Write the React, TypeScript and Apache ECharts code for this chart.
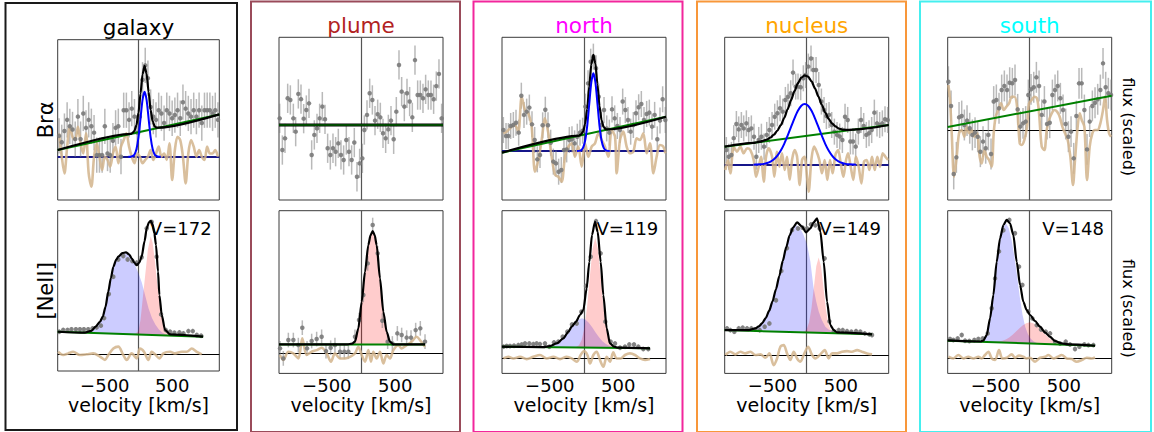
import React, { useEffect, useRef } from 'react';
import * as echarts from 'echarts';

const FONT = 'DejaVu Sans';

// ---------------- text ----------------
const TITLES = ['galaxy', 'plume', 'north', 'nucleus', 'south'];
const TITLE_COLORS = ['#000000', '#b22222', '#ff00ff', '#ffa500', '#00ffff'];
const FRAME_COLORS = ['#1a1a1a', '#9a4b5a', '#f2269c', '#f8973a', '#45efef'];
const V_LABELS = ['V=172', '', 'V=119', 'V=149', 'V=148'];
const ROW_LABELS = ['Br\u03b1', '[NeII]'];
const RIGHT_LABEL = 'flux (scaled)';
const X_LABEL = 'velocity [km/s]';
const X_TICKS = [-500, 500];

// ---------------- galaxy ----------------
const GAL_BRA_V = [-1180,-1140,-1100,-1060,-1020,-980,-940,-900,-860,-820,-780,-740,-700,-660,-620,-580,-540,-500,-460,-420,-380,-340,-300,-260,-220,-180,-140,-100,-60,-20,20,60,100,140,180,220,260,300,340,380,420,460,500,540,580,620,660,700,740,780,820,860,900,940,980,1020,1060,1100,1140,1180];
const GAL_BRA_F = [40,36,43,50,46,44,38,52,38,54,45,50,46,42,28,28,28,46,29,28,37,45,46,27,56,56,50,57,52,42,52,75,84,76,58,52,50,56,54,48,56,54,51,53,56,51,61,57,54,52,56,52,56,48,56,56,56,54,56,50];
const GAL_BRA_RES = [41.6,27,16.6,33,45.7,39.5,37.4,45.7,35.3,29,41.6,16.6,8.3,27,35.3,27,18.7,27,25,20.8,29,33.3,22.9,33.3,37.4,41.6,33.3,27,22.9,29,27,22.9,25,27,31.2,25,29,33.3,27,29,25,35.3,12.5,31.2,39.5,37.4,27,10.4,29,37.4,33.3,27,31.2,27,25,33.3,29,29,31.2,27];
const GAL_BRA_ERR = 11;
const GAL_BRA_RES0 = 27;
const GAL_BRA_GREEN = [[-1200,31.2],[1200,53.4]];
const GAL_BRA_FIT = [[-1200,31.2],[-120,41.2],[-90,41.8],[-60,43.2],[-30,46.8],[0,54.5],[30,66.4],[60,78.4],[90,83.7],[120,78.9],[150,67.5],[180,56.2],[210,49.0],[240,45.9],[270,45.1],[300,45.1],[1200,53.4]];
const GAL_BRA_GAUSS = [[-150,27],[-120,27.0],[-90,27.3],[-60,28.4],[-30,31.8],[0,39.2],[30,50.8],[60,62.5],[90,67.6],[120,62.5],[150,50.8],[180,39.2],[210,31.8],[240,28.4],[270,27.3],[300,27.0],[330,27]];

const GAL_NE_V = [-1178,-1118,-1054,-995,-930,-870,-811,-747,-682,-622,-558,-510,-440,-374,-300,-226,-161,-92,-27,47,122,196,270,335,404,469,533,608,667,741,806,866,930];
const GAL_NE_F = [24.5,25.6,25.6,26,26,26,26,26,26.6,27.2,28.3,33,48,58.8,69.6,71.7,69.6,68.6,67.6,71,89,93,71.3,35.3,25.6,24.5,23.9,24.1,23.5,24.9,24.9,22.5,22];
const GAL_NE_RV = [-1193,-1119,-1044,-970,-871,-771,-672,-573,-498,-449,-374,-300,-226,-176,-102,-27,22,82,146,196,246,310,369,469,543,642,717,791,866,940];
const GAL_NE_RF = [12,10,11,12,10,10.4,11,9,6.9,10,14,15.2,10,6.9,11,7.9,14,12,6.9,12,10.4,7.9,11,12,11,12,12,14,12,10.4];
const GAL_NE_ERR = 1.5;
const GAL_NE_RES0 = 10.4;
const GAL_NE_GREEN = [[-1200,24.5],[960,21.4]];
const GAL_NE_FIT = [[-1200,24.5],[-800,23.9],[-700,25],[-640,27.5],[-573,30.6],[-530,34],[-490,40],[-449,49.5],[-410,58],[-374,65],[-330,69.5],[-300,71.3],[-240,73.5],[-186,74],[-140,72.8],[-102,70.3],[-60,67.5],[-27,66],[10,67.5],[47,71.3],[90,81],[122,89],[155,92.8],[181,93.6],[210,91.5],[235,86],[260,78.6],[290,62],[310,47.4],[345,35],[394,25.6],[470,22.8],[960,21.4]];
const GAL_NE_BLUE = [[-800,23.9],[-700,25],[-640,27.5],[-573,30.6],[-530,34],[-490,40],[-449,49.5],[-410,58],[-374,65],[-330,69.5],[-300,71.3],[-240,73],[-186,73.5],[-140,72.5],[-100,70.5],[-50,66],[0,61],[50,55],[100,47],[150,39],[200,33],[250,29],[300,26],[350,24],[400,23],[450,22.4],[500,22.1]];
const GAL_NE_RED = [[-100,22.9],[-50,23.3],[0,25],[30,32],[60,44],[100,60],[140,76],[181,84],[210,80],[240,70],[270,57.8],[320,41.2],[370,28.7],[420,23.5],[470,22.6],[520,22.0]];

// ---------------- plume ----------------
const PLU_BRA_V = [-1190,-1151,-1112,-1073,-1034,-990,-956,-917,-878,-839,-800,-761,-722,-683,-644,-605,-566,-527,-488,-449,-410,-371,-332,-293,-254,-215,-176,-137,-98,-59,-20,20,49,88,127,166,205,244,283,322,361,400,439,478,517,556,595,634,673,712,751,790,829,868,907,946,985,1024,1063,1102,1141,1180];
const PLU_BRA_F = [50.2,30.7,37.9,62.5,61.5,50.2,42,65.2,62,50,55.3,59.4,27.7,40,44,50.2,57.4,49.6,31.8,27.7,31.8,29.7,34.8,27.7,24.6,36.9,29.7,24.6,35.3,14.3,22.5,25.6,43,52.3,65.6,61.5,48.8,52.7,50.8,41,37.9,43.4,48.8,37.3,54.3,83,66.6,57.4,65.6,60.5,50.8,86,64.5,64.5,62.5,68,64.5,64.5,61.9,70,77.5,50.2];
const PLU_BRA_ERR = 9;
const PLU_BRA_GREEN = [[-1200,46.1],[1200,46.1]];
const PLU_BRA_FIT = [[-1200,46.1],[1200,46.1]];

const PLU_NE_V = [-1185,-1137,-1063,-990,-917,-859,-790,-722,-649,-576,-512,-444,-381,-307,-244,-185,-88,-29,34,98,171,244,312,390,459,532,595,668,732,800,868,937];
const PLU_NE_F = [15.4,9.2,20.5,20.5,17.4,28.1,15.4,19.9,21.1,22.5,13.7,15.8,17.4,13.3,13.3,13.3,22.5,32.8,48.2,67.6,91.2,73.8,32.4,19.5,18.4,24.6,23.6,22,22,26.6,27.7,19.5];
const PLU_NE_RV = [-1185,-1137,-1063,-990,-917,-859,-795,-722,-649,-576,-502,-439,-381,-307,-234,-161,-88,-39,10,59,107,146,180,229,278,327,376,424,473,546,595,668,741,815,863,937];
const PLU_NE_RF = [11.3,8.2,13.3,12.3,9.2,21.5,11.3,13.3,14.3,15.8,12.3,7.2,12.3,9.2,9.2,10.2,12.3,16.4,11.3,7.2,14.3,7.2,13.3,9.2,13.3,6.1,11.3,9.2,14.3,17.4,15.4,17.4,19.5,22.5,20.5,16.4];
const PLU_NE_ERR = 4.5;
const PLU_NE_RES0 = 12.3;
const PLU_NE_GREEN = [[-1200,17.8],[937,17.8]];
const PLU_NE_FIT = [[-1200,17.8],[-200,17.8],[-130,18.3],[-88,19.5],[-39,27.7],[10,44],[59,62.5],[107,78.9],[140,85],[171,87.5],[200,85],[229,78.9],[278,58.4],[327,37.9],[376,25.6],[424,19.5],[473,17.9],[937,17.8]];
const PLU_NE_RED = [[-200,17.8],[-130,18.3],[-88,19.5],[-39,27.7],[10,44],[59,62.5],[107,78.9],[140,85],[171,87.5],[200,85],[229,78.9],[278,58.4],[327,37.9],[376,25.6],[424,19.5],[473,17.9]];

// ---------------- north ----------------
const NOR_BRA_V = [-1180,-1141,-1107,-1073,-1034,-995,-956,-917,-878,-839,-800,-761,-722,-683,-644,-605,-566,-527,-488,-449,-410,-371,-332,-293,-254,-215,-176,-137,-98,-59,-20,20,59,98,137,176,215,254,293,332,371,410,449,488,527,566,605,644,683,722,761,800,839,878,917,956,995,1034,1073,1112,1151,1190];
const NOR_BRA_F = [43,39.3,39.3,45.5,46.1,47.5,41.4,64.1,52.3,54.3,56.8,46.5,36.9,25,27.7,45.9,55.5,45.9,35.2,23.6,22.5,17.4,18.4,30.7,31.1,36.9,37.3,34.8,38.9,41.4,42.6,57.4,71.7,85,88.1,81,63.5,46.1,55.3,44,41.4,55.7,50.2,45.5,43,60.5,55.3,49.2,42,46.1,53.3,57,59,49.2,52.9,53.7,45.1,52.3,37.3,48.8,61.9,49.2];
const NOR_BRA_RV = [-1180,-1132,-1058,-1010,-961,-912,-863,-815,-766,-717,-668,-619,-571,-522,-473,-424,-376,-327,-278,-229,-180,-132,-83,-34,15,63,112,161,210,259,307,356,405,454,478,527,576,624,673,722,771,819,868,917,966,1015,1063,1112,1161,1190];
const NOR_BRA_RF = [41,42,45,46.1,42,63.5,55.3,53.3,45.1,17.4,24.6,36.9,50.2,41,26.6,15.4,14.3,11.3,26.6,32.8,34.8,26.6,32.8,20.5,34.8,26.6,32.8,34.8,41,36.9,32.8,26.6,43,38.9,16.4,36.9,42,32.8,28.7,29.7,37.9,36.9,41,28.7,34.8,16.4,26.6,33.8,32.8,28.7];
const NOR_BRA_ERR = 8;
const NOR_BRA_RES0 = 30.1;
const NOR_BRA_GREEN = [[-1200,29.1],[1200,51.2]];
const NOR_BRA_FIT = [[-1200,29.1],[-73,39.6],[-43,40.3],[-13,42.1],[17,46.8],[47,56.1],[77,69.9],[107,83.3],[137,89.2],[167,83.9],[197,71],[227,57.7],[257,49],[287,44.9],[317,43.6],[347,43.4],[1200,51.2]];
const NOR_BRA_GAUSS = [[-103,30.1],[-73,30.2],[-43,30.6],[-13,32.2],[17,36.6],[47,45.6],[77,59.1],[107,72.3],[137,77.9],[167,72.3],[197,59.1],[227,45.6],[257,36.6],[287,32.2],[317,30.6],[347,30.2],[377,30.1]];

const NOR_NE_V = [-1180,-1132,-1083,-1024,-961,-912,-863,-800,-741,-693,-644,-571,-507,-439,-376,-312,-244,-176,-107,-39,29,98,176,244,312,390,454,527,600,663,732,795,868,941];
const NOR_NE_F = [16.4,16.8,16.8,17,17.4,17.8,18.4,18.4,18,18.4,18,18.4,16.4,19.1,19.5,22.5,25.6,30.1,30.7,37.9,53.7,71.7,93.6,73.8,31.8,19.5,18.4,15.8,16.4,17.8,17.8,16.4,15,15];
const NOR_NE_RV = [-1180,-1107,-1034,-937,-839,-741,-644,-546,-449,-351,-254,-180,-107,-49,0,49,88,137,185,234,283,332,380,429,478,537,600,673,746,819,893,966];
const NOR_NE_RF = [9.2,10.2,9.2,10.2,8.8,10.2,11.3,9.2,10.2,8.8,10.2,9.2,7.2,11.3,13.7,11.3,6.1,11.3,13.3,8.2,4.1,10.2,7.2,12.9,9.2,9.2,11.3,12.3,11.3,9.2,8.2,8.8];
const NOR_NE_ERR = 1.5;
const NOR_NE_RES0 = 9.2;
const NOR_NE_GREEN = [[-1200,16.4],[966,15.4]];
const NOR_NE_FIT = [[-1200,16.4],[-600,16.2],[-498,16.8],[-400,18.4],[-302,21.5],[-229,25.6],[-180,28.7],[-117,31.8],[-59,35.9],[-10,38.9],[39,52.3],[78,68.6],[117,85],[161,93.2],[200,87.1],[244,68.6],[283,48.2],[332,27.7],[380,18.4],[439,16.4],[502,15.8],[966,15.4]];
const NOR_NE_BLUE = [[-580,16.2],[-530,16.4],[-480,16.7],[-430,17.3],[-380,18.4],[-330,20.1],[-280,22.5],[-230,25.4],[-180,28.4],[-130,31.2],[-80,33.2],[-30,33.9],[20,33.1],[70,31.1],[120,28.3],[170,25.2],[220,22.2],[270,19.8],[320,18.1],[370,17],[420,16.3],[470,15.9],[520,15.7]];
const NOR_NE_RED = [[-155,15.9],[-115,16.3],[-75,17.3],[-35,20.4],[5,27.6],[45,41],[85,59.3],[125,76.4],[165,83.4],[205,76.3],[245,59.1],[285,40.7],[325,27.3],[365,20.2],[405,17.1],[445,16.2],[485,15.7]];

// ---------------- nucleus ----------------
const NUC_BRA_V = [-1176,-1141,-1102,-1068,-1029,-995,-956,-922,-883,-849,-810,-771,-737,-702,-663,-624,-585,-546,-507,-468,-429,-390,-351,-312,-273,-234,-200,-161,-127,-88,-49,-15,24,63,98,137,176,215,254,288,327,366,405,444,483,522,561,600,639,678,717,756,795,834,873,912,951,990,1029,1068,1107,1146,1185];
const NUC_BRA_F = [30.7,26.6,27.7,38,46.7,43.4,46.1,44,47.1,43,44,38.9,26.6,36.9,38.9,32.8,40,43,46.1,51.2,53.3,56.4,54.3,61.5,63.5,65.6,78.3,69.7,69.7,69.3,74.8,76.8,82,87,79.9,79.9,70.7,60.5,55.3,51.6,52.3,46.1,42,40,39,36.9,51.2,49.2,36,36,32.8,42,49.2,45.5,40,41,43,53.7,47.1,46.1,47.1,49.6,49.2];
const NUC_BRA_RV = [-1190,-1151,-1117,-1068,-1020,-971,-922,-873,-824,-776,-741,-702,-668,-629,-595,-556,-507,-473,-434,-400,-361,-322,-288,-249,-215,-176,-141,-102,-68,-34,5,29,68,107,146,185,224,263,302,341,380,420,459,498,537,576,605,644,683,722,761,800,839,878,917,956,995,1034,1073,1112,1151,1190];
const NUC_BRA_RF = [18.4,24.6,16.4,32.8,29.7,32.8,28.7,31.8,30.7,24.6,14.3,20.5,26.6,11.3,26.6,31.8,26.6,14.3,29.7,20.5,28.7,18.4,26.6,12.5,24.6,30.7,26.6,9.2,24.6,26.6,14.3,5.1,24.6,32.8,29.7,24.6,16.4,24.6,12.3,24.6,16.4,27.7,30.7,22.5,14.3,24.6,28.7,20.5,12.3,26.6,20.5,10.2,23.6,24.6,18.4,26.6,18.4,26.6,20.5,28.7,26.6,24.6];
const NUC_BRA_ERR = 8;
const NUC_BRA_RES0 = 21.7;
const NUC_BRA_GREEN = [[-1200,32.8],[1200,46.1]];
const NUC_BRA_FIT = [[-1200,32.8],[-779,35.1],[-729,35.5],[-679,35.9],[-629,36.5],[-579,37.2],[-529,38.4],[-479,40.2],[-429,42.7],[-379,46],[-329,50.4],[-279,55.7],[-229,61.4],[-179,66.9],[-129,71.8],[-79,75.2],[-29,76.6],[21,75.8],[71,72.9],[121,68.6],[171,63.6],[221,58.5],[271,53.7],[321,49.9],[371,47.1],[421,45.2],[471,43.9],[521,43.3],[571,43.1],[621,43.1],[671,43.2],[721,43.4],[1200,46.1]];
const NUC_BRA_GAUSS = [[-779,21.7],[-729,21.8],[-679,21.95],[-629,22.2],[-579,22.7],[-529,23.6],[-479,25.1],[-429,27.3],[-379,30.4],[-329,34.5],[-279,39.5],[-229,44.9],[-179,50.2],[-129,54.8],[-79,57.9],[-29,59],[21,57.9],[71,54.8],[121,50.2],[171,44.9],[221,39.5],[271,34.5],[321,30.4],[371,27.3],[421,25.1],[471,23.6],[521,22.7],[571,22.2],[621,21.95],[671,21.8],[721,21.7]];

const NUC_NE_V = [-1166,-1117,-1059,-995,-937,-873,-810,-751,-688,-615,-546,-449,-371,-288,-215,-127,-59,5,63,127,190,263,332,395,468,527,590,654,722,785,849,917,956];
const NUC_NE_F = [27.7,26.6,25.6,27.7,28.1,27.7,27.7,27,26.6,28.7,30.7,45,63,77,88.1,89.1,89.5,89.1,91.6,91,89.1,70.7,32,26,26.6,26.6,26,25.6,26,25.6,24.6,24,23.6];
const NUC_NE_RV = [-1190,-1117,-1044,-971,-898,-824,-751,-678,-605,-546,-483,-434,-385,-337,-288,-239,-190,-141,-93,-44,20,78,127,200,263,322,371,444,517,590,663,737,810,883,956];
const NUC_NE_RF = [11.3,13.3,11.7,13.3,12.3,13.3,11.3,11.7,9.6,12.3,5.1,9.2,16.4,17.4,12.3,8.2,13.3,9.2,7.2,11.3,16.4,11.3,9.2,11.7,14.3,9.2,12.3,12.3,13.3,13.7,13.3,14.3,13.3,12.3,11.7];
const NUC_NE_ERR = 1.5;
const NUC_NE_RES0 = 11.3;
const NUC_NE_GREEN = [[-1200,26.6],[956,24]];
const NUC_NE_FIT = [[-1200,26.6],[-850,26.6],[-750,27.7],[-700,28.9],[-650,30.9],[-600,34],[-550,38.4],[-500,44.3],[-450,51.7],[-400,60],[-350,69.1],[-300,77.5],[-250,84.8],[-200,89.6],[-141,92.8],[-68,90.2],[-10,86.7],[54,89.1],[102,92.8],[151,95.3],[200,87.1],[249,68.6],[298,44],[346,29.7],[395,26.6],[444,25.2],[956,24]];
const NUC_NE_BLUE = [[-850,26.6],[-800,27],[-750,27.7],[-700,28.9],[-650,30.9],[-600,34],[-550,38.4],[-500,44.3],[-450,51.7],[-400,60],[-350,69.1],[-300,77.5],[-250,84.8],[-200,89.4],[-150,91],[-100,89.3],[-50,85.5],[0,80],[30,74],[54,68.6],[102,52],[140,44],[176,38],[220,33],[273,28.7],[320,27],[371,26],[420,25.3],[470,24.8]];
const NUC_NE_RED = [[-70,25.3],[-35,25.7],[0,27.2],[35,31.4],[70,40.1],[105,53],[140,65.8],[175,71.2],[210,65.7],[245,52.9],[280,39.8],[315,31],[350,26.8],[385,25.2],[420,24.8]];

// ---------------- south ----------------
const SOU_BRA_V = [-1190,-1151,-1112,-1073,-1034,-995,-956,-917,-878,-839,-800,-761,-722,-683,-644,-605,-566,-527,-488,-449,-410,-371,-332,-293,-254,-215,-176,-137,-98,-59,-20,20,59,98,137,176,215,254,293,332,371,410,449,488,527,566,605,644,683,722,761,800,839,878,917,956,995,1034,1073,1112,1151,1190];
const SOU_BRA_F = [72.7,57.8,16,26.2,50.8,51.6,46.1,48.8,44.1,40,41.4,38.9,29.7,35.9,31.8,40,28.3,60.5,61.5,56.4,67.6,70.1,67.6,72.1,71.7,73.8,55.7,45.1,47.1,48.2,64.5,68,69.3,75.4,70.1,52.3,60.5,46.7,47.5,64.5,67.6,70.1,62.5,55.3,46.7,38.9,42,25.6,51.6,71.7,71.7,55.3,31.1,48.2,57.8,59.8,61.9,67.6,84,69.3,65.6,64.5];
const SOU_BRA_RV = [-1190,-1166,-1141,-1107,-1068,-1034,-995,-956,-922,-883,-849,-810,-771,-732,-702,-663,-629,-595,-556,-527,-498,-459,-420,-380,-341,-302,-263,-224,-185,-146,-117,-78,-39,-10,29,68,107,137,176,215,249,283,322,361,400,439,478,517,556,595,634,663,702,732,761,800,839,878,917,956,995,1034,1073,1102,1132,1161,1190];
const SOU_BRA_RF = [70.7,61.5,41,14.3,26.6,41,43,38.9,45.1,41,43,38.9,41,26.6,22.5,30.7,26.6,24.6,20.5,41,51.2,55.3,59.4,55.3,57.4,59.4,63.5,63.5,57.4,34.8,33.8,36.9,45.1,59.4,61.5,63.5,62.5,53.3,32.8,30.7,43,49.2,53.3,55.3,54.3,51.2,45.1,41,36.9,26.6,9.2,24.6,45.1,53.3,49.2,45.1,12.3,32.8,41,43,43,47.1,55.3,63.5,49.2,41,38.9];
const SOU_BRA_ERR = 9.5;
const SOU_BRA_RES0 = 42.8;
const SOU_BRA_GREEN = [[-1200,44.9],[1200,64.1]];

const SOU_NE_V = [-1166,-1117,-1054,-995,-946,-883,-810,-751,-688,-615,-556,-507,-449,-385,-298,-215,-156,-107,-20,39,102,166,234,298,371,444,527,590,663,727,800,859,932];
const SOU_NE_F = [21.1,20.5,21.5,23.6,20.1,19.9,20.5,21.1,21.5,24.6,40,58.4,75,88,94.3,86.1,65.6,54.3,38.1,33.8,29.7,27,25.6,24.6,19.5,18.4,19.5,17.8,15,16.4,17.8,17.4,17.4];
const SOU_NE_RV = [-1190,-1117,-1044,-971,-898,-824,-751,-702,-654,-605,-556,-507,-449,-400,-337,-263,-215,-156,-93,-44,5,78,151,224,273,346,410,468,541,615,688,761,834,907,956];
const SOU_NE_RF = [10.2,9.2,11.3,9.2,10.2,9.2,10.2,9.2,11.3,13.3,9.2,8.2,14.3,9.2,9.6,11.7,9.6,10.9,10.2,9.2,9.6,7.2,9.6,10.2,11.3,9.2,10.2,11.3,9.2,8.8,7.2,8.2,9.6,9.2,9.8];
const SOU_NE_ERR = 1.5;
const SOU_NE_RES0 = 9.2;
const SOU_NE_GREEN = [[-1200,20.1],[956,17]];
const SOU_NE_FIT = [[-1200,20.3],[-720,19.6],[-678,20.2],[-629,23.6],[-580,33.8],[-532,48.2],[-483,68.6],[-434,83],[-385,91.2],[-337,94.3],[-288,92.2],[-239,85],[-190,68.6],[-141,54.3],[-93,44],[-44,38.9],[5,35.9],[78,32.2],[151,28.7],[224,25.2],[298,22.5],[371,19.9],[468,18.4],[566,17.8],[956,17]];
const SOU_NE_BLUE = [[-720,19.6],[-678,20.2],[-629,23.4],[-580,33.3],[-532,47.5],[-483,67.5],[-434,81.5],[-385,89.8],[-345,92.2],[-305,89],[-265,82],[-225,72],[-185,60],[-145,47],[-105,36],[-65,28.5],[-25,24],[15,21.3],[55,19.7],[95,18.8],[135,18.4],[175,18.2]];
const SOU_NE_RED = [[-550,19.3],[-500,19.4],[-450,19.6],[-400,20.1],[-350,20.8],[-300,22.1],[-250,23.7],[-200,25.7],[-150,27.8],[-100,29.6],[-50,30.9],[0,31.4],[50,30.8],[100,29.3],[150,27.4],[200,25.1],[250,23],[300,21.2],[350,19.8],[400,18.9],[450,18.3],[500,17.9],[550,17.7]];

// ---------------- layout (positions only) ----------------
const LAYOUT = [
  { left: 57.7, width: 161.6, top: [39.7, 210.7], height: [160.3, 160.3], titleBase: 35.3, frame: [5.5, 3, 231.5, 427], lblMargin: 5.5, nameGap: 23 },
  { left: 279, width: 164, top: [37.3, 210.7], height: [162.7, 162.7], titleBase: 33.3, frame: [251, 1.5, 209, 430.5], lblMargin: 3.2, nameGap: 21 },
  { left: 502, width: 164, top: [37.3, 210.7], height: [162.7, 162.7], titleBase: 32.7, frame: [473.5, 1.5, 209, 430.5], lblMargin: 3.2, nameGap: 21 },
  { left: 724.7, width: 164, top: [37.3, 210.7], height: [162.7, 162.7], titleBase: 32.5, frame: [697, 1.5, 209, 430.5], lblMargin: 3.2, nameGap: 21 },
  { left: 947.7, width: 164, top: [37.3, 210.7], height: [162.7, 162.7], titleBase: 33.3, frame: [920, 1.5, 231, 430.5], lblMargin: 3.2, nameGap: 21 },
];

const pairs = (v: number[], f: number[]) => v.map((x, i) => [x, f[i]]);

const PANELS = [
  {
    bra: { pts: pairs(GAL_BRA_V, GAL_BRA_F), err: GAL_BRA_ERR, res: pairs(GAL_BRA_V, GAL_BRA_RES), res0: GAL_BRA_RES0, res0Color: '#15158a', green: GAL_BRA_GREEN, fit: GAL_BRA_FIT, gauss: GAL_BRA_GAUSS },
    ne: { pts: pairs(GAL_NE_V, GAL_NE_F), err: GAL_NE_ERR, res: pairs(GAL_NE_RV, GAL_NE_RF), res0: GAL_NE_RES0, res0Color: '#000', green: GAL_NE_GREEN, fit: GAL_NE_FIT, blue: GAL_NE_BLUE, red: GAL_NE_RED },
  },
  {
    bra: { pts: pairs(PLU_BRA_V, PLU_BRA_F), err: PLU_BRA_ERR, green: PLU_BRA_GREEN, fit: PLU_BRA_FIT, greenOnTop: true },
    ne: { pts: pairs(PLU_NE_V, PLU_NE_F), err: PLU_NE_ERR, res: pairs(PLU_NE_RV, PLU_NE_RF), res0: PLU_NE_RES0, res0Color: '#000', green: PLU_NE_GREEN, fit: PLU_NE_FIT, red: PLU_NE_RED },
  },
  {
    bra: { pts: pairs(NOR_BRA_V, NOR_BRA_F), err: NOR_BRA_ERR, res: pairs(NOR_BRA_RV, NOR_BRA_RF), res0: NOR_BRA_RES0, res0Color: '#15158a', green: NOR_BRA_GREEN, fit: NOR_BRA_FIT, gauss: NOR_BRA_GAUSS },
    ne: { pts: pairs(NOR_NE_V, NOR_NE_F), err: NOR_NE_ERR, res: pairs(NOR_NE_RV, NOR_NE_RF), res0: NOR_NE_RES0, res0Color: '#000', green: NOR_NE_GREEN, fit: NOR_NE_FIT, blue: NOR_NE_BLUE, red: NOR_NE_RED },
  },
  {
    bra: { pts: pairs(NUC_BRA_V, NUC_BRA_F), err: NUC_BRA_ERR, res: pairs(NUC_BRA_RV, NUC_BRA_RF), res0: NUC_BRA_RES0, res0Color: '#15158a', green: NUC_BRA_GREEN, fit: NUC_BRA_FIT, gauss: NUC_BRA_GAUSS },
    ne: { pts: pairs(NUC_NE_V, NUC_NE_F), err: NUC_NE_ERR, res: pairs(NUC_NE_RV, NUC_NE_RF), res0: NUC_NE_RES0, res0Color: '#000', green: NUC_NE_GREEN, fit: NUC_NE_FIT, blue: NUC_NE_BLUE, red: NUC_NE_RED },
  },
  {
    bra: { pts: pairs(SOU_BRA_V, SOU_BRA_F), err: SOU_BRA_ERR, res: pairs(SOU_BRA_RV, SOU_BRA_RF), res0: SOU_BRA_RES0, res0Color: '#000', green: SOU_BRA_GREEN },
    ne: { pts: pairs(SOU_NE_V, SOU_NE_F), err: SOU_NE_ERR, res: pairs(SOU_NE_RV, SOU_NE_RF), res0: SOU_NE_RES0, res0Color: '#000', green: SOU_NE_GREEN, fit: SOU_NE_FIT, blue: SOU_NE_BLUE, red: SOU_NE_RED },
  },
];

const CENTRAL = 0.346; // distance from central to alphabetic baseline, in em

function buildOption() {
  const grid: any[] = [];
  const xAxis: any[] = [];
  const yAxis: any[] = [];
  const series: any[] = [];
  const graphic: any[] = [];

  PANELS.forEach((pd: any, p: number) => {
    const L = LAYOUT[p];
    for (let r = 0; r < 2; r++) {
      const gi = grid.length;
      const d: any = r === 0 ? pd.bra : pd.ne;
      grid.push({
        left: L.left, top: L.top[r], width: L.width, height: L.height[r],
        show: true, borderColor: '#3a3a3a', borderWidth: 1, backgroundColor: 'transparent',
        containLabel: false, outerBoundsMode: 'none',
      });
      xAxis.push({
        type: 'value', gridIndex: gi, min: -1200, max: 1200,
        axisLine: { show: false }, axisTick: { show: false }, splitLine: { show: false },
        axisLabel: r === 1 ? {
          show: true, customValues: X_TICKS, margin: L.lblMargin,
          formatter: (v: number) => (v < 0 ? '\u2212' + Math.abs(v) : String(v)),
          fontSize: 18, color: '#000', fontFamily: FONT,
        } : { show: false },
        name: r === 1 ? X_LABEL : '', nameLocation: 'middle', nameGap: L.nameGap,
        nameTextStyle: { fontSize: 19, color: '#000', fontFamily: FONT },
      });
      yAxis.push({
        type: 'value', gridIndex: gi, min: 0, max: 100,
        axisLine: { show: false }, axisTick: { show: false }, axisLabel: { show: false }, splitLine: { show: false },
      });

      const refData: any[] = [{ xAxis: 0, lineStyle: { color: '#555', width: 1.2, type: 'solid' } }];
      if (d.res0 != null) refData.push({ yAxis: d.res0, lineStyle: { color: d.res0Color, width: r === 0 && d.res0Color !== '#000' ? 2 : 1.2, type: 'solid' } });
      const markLine = { silent: true, symbol: ['none', 'none'], label: { show: false }, z: 1, animation: false, data: refData };

      const base = { xAxisIndex: gi, yAxisIndex: gi, silent: true, animation: false };
      let markUsed = false;
      if (d.res) {
        series.push({ ...base, type: 'line', data: d.res, showSymbol: false, symbol: 'none', smooth: 0.3,
          lineStyle: { color: '#d2b48c', width: 2.6, opacity: 0.85 }, markLine, z: 2 });
        markUsed = true;
      }
      const fill = (pts: number[][], color: string) => ({
        ...base, type: 'custom', encode: { x: 0, y: 1 }, data: [pts[0]],
        renderItem: (_p: any, api: any) => ({
          type: 'polygon', shape: { points: pts.map((q) => api.coord(q)) }, style: { fill: color },
        }),
      });
      if (d.blue) series.push(fill(d.blue, 'rgba(0,0,255,0.2)'));
      if (d.red) series.push(fill(d.red, 'rgba(255,0,0,0.2)'));

      const greenS: any = { ...base, type: 'line', data: d.green, showSymbol: false, symbol: 'none',
        lineStyle: { color: '#008000', width: 2 } };
      if (!markUsed) { greenS.markLine = markLine; markUsed = true; }
      const fitS = d.fit ? { ...base, type: 'line', data: d.fit, showSymbol: false, symbol: 'none', smooth: 0.25, smoothMonotone: 'x',
        lineStyle: { color: '#000', width: d.greenOnTop ? 3.2 : 2.2 } } : null;
      if (d.greenOnTop) {
        if (fitS) series.push(fitS);
        series.push({ ...greenS, lineStyle: { color: '#006000', width: 1.6 } });
      } else {
        series.push(greenS);
        if (fitS) series.push(fitS);
      }
      if (d.gauss) {
        series.push({ ...base, type: 'line', data: d.gauss, showSymbol: false, symbol: 'none', smooth: 0.25,
          lineStyle: { color: '#0000ff', width: 2 } });
      }
      // error bars
      series.push({
        ...base, type: 'custom', encode: { x: 0, y: 1 },
        data: d.pts.map((q: number[]) => [q[0], q[1], d.err]),
        renderItem: (_p: any, api: any) => {
          const x = api.value(0), y = api.value(1), e = api.value(2);
          const a = api.coord([x, y - e]);
          const b = api.coord([x, y + e]);
          return { type: 'line', shape: { x1: a[0], y1: a[1], x2: b[0], y2: b[1] },
            style: { stroke: 'rgba(128,128,128,0.55)', lineWidth: 1.5 } };
        },
      });
      series.push({ ...base, type: 'scatter', data: d.pts, symbolSize: 4.5,
        itemStyle: { color: '#7a7a7a', opacity: 0.9 } });
    }

    // frame
    const [fx, fy, fw, fh] = L.frame;
    graphic.push({ type: 'rect', silent: true, z: 0, shape: { x: fx, y: fy, width: fw, height: fh },
      style: { fill: 'none', stroke: FRAME_COLORS[p], lineWidth: 2 } });
    // title
    graphic.push({ type: 'text', silent: true, x: L.left + L.width / 2, y: L.titleBase - CENTRAL * 21.5,
      style: { text: TITLES[p], fill: TITLE_COLORS[p], fontSize: 21.5, fontFamily: FONT,
        textAlign: 'center', textVerticalAlign: 'middle', align: 'center', verticalAlign: 'middle' } });
    // velocity label (drawn beneath the fit curves, as in the reference)
    if (V_LABELS[p]) {
      graphic.push({ type: 'text', silent: true, z: 1, x: L.left + L.width - 7.7, y: 235 - CENTRAL * 18,
        style: { text: V_LABELS[p], fill: '#000', fontSize: 18, fontFamily: FONT,
          textAlign: 'right', textVerticalAlign: 'middle', align: 'right', verticalAlign: 'middle' } });
    }
  });

  // row labels (left of galaxy)
  const g0 = LAYOUT[0];
  ROW_LABELS.forEach((t, r) => {
    graphic.push({ type: 'text', silent: true, x: 46, y: g0.top[r] + g0.height[r] / 2, rotation: Math.PI / 2,
      style: { text: t, fill: '#000', fontSize: 21, fontFamily: FONT,
        textAlign: 'center', textVerticalAlign: 'middle', align: 'center', verticalAlign: 'middle' } });
  });
  // right labels
  [126.7, 308.3].forEach((cy) => {
    graphic.push({ type: 'text', silent: true, x: 1128.3, y: cy, rotation: -Math.PI / 2,
      style: { text: RIGHT_LABEL, fill: '#000', fontSize: 16, fontFamily: FONT,
        textAlign: 'center', textVerticalAlign: 'middle', align: 'center', verticalAlign: 'middle' } });
  });

  return { animation: false, backgroundColor: '#ffffff', grid, xAxis, yAxis, series, graphic };
}

export default function App() {
  const ref = useRef<HTMLDivElement>(null);
  useEffect(() => {
    if (!ref.current) return;
    const chart = echarts.init(ref.current, null, { renderer: 'svg' });
    chart.setOption(buildOption() as any);
    return () => chart.dispose();
  }, []);
  return <div ref={ref} style={{ position: 'fixed', left: 0, top: 0, width: 1154, height: 432 }} />;
}
